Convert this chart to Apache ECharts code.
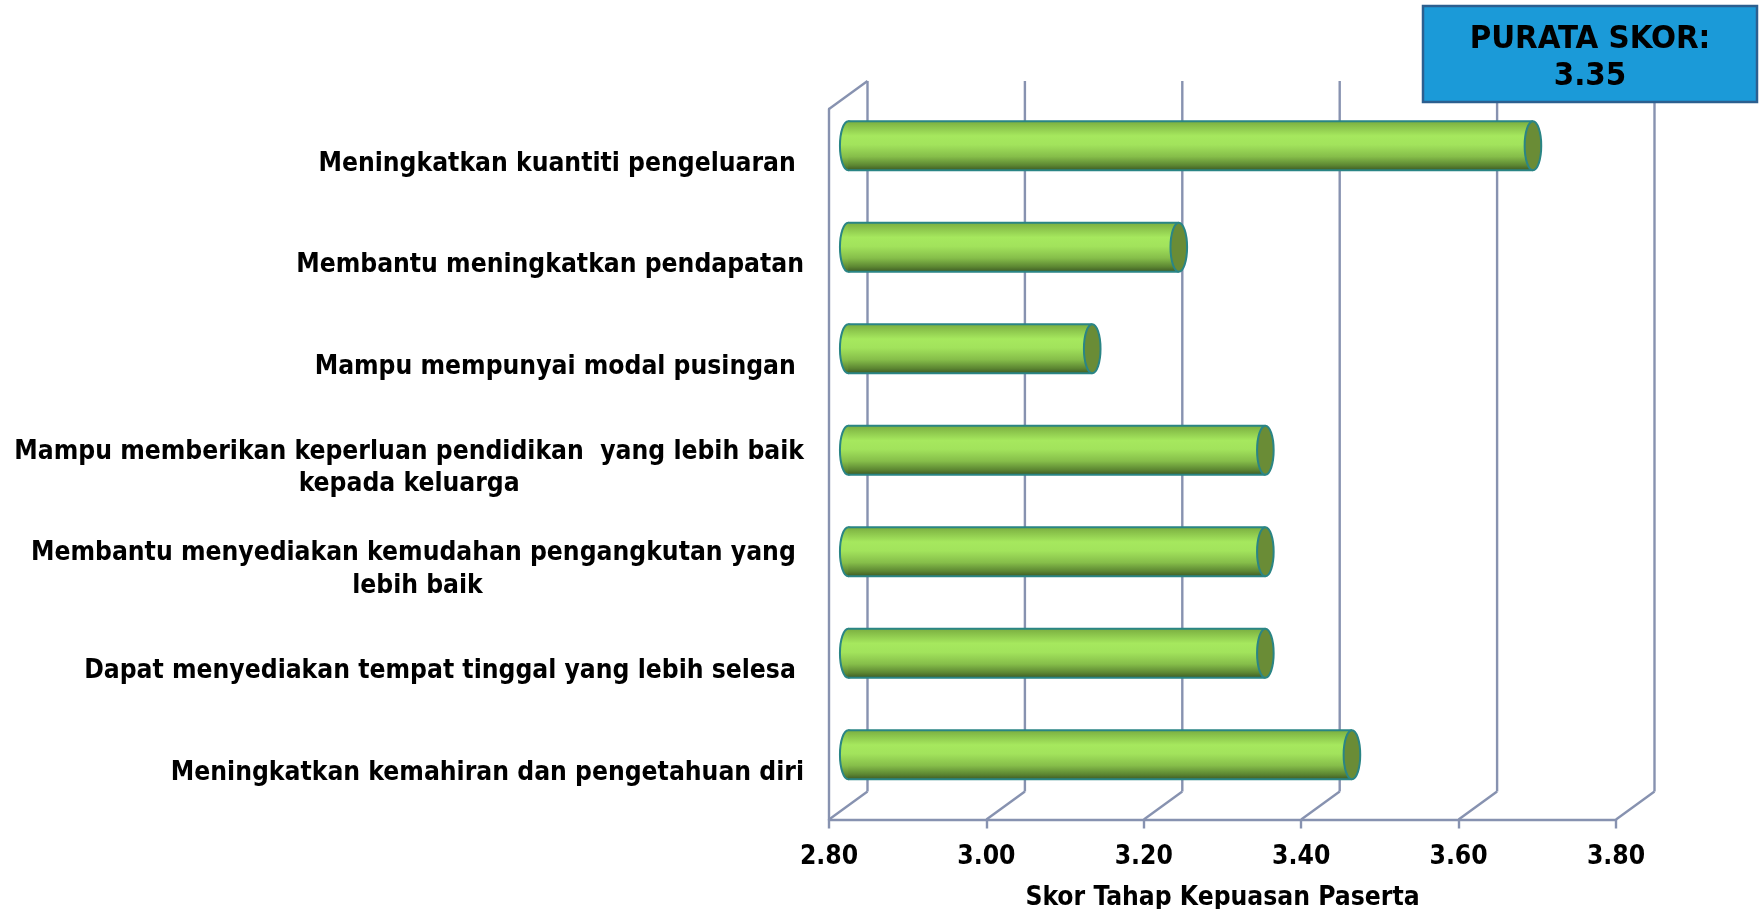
<!DOCTYPE html>
<html><head><meta charset="utf-8">
<script src="https://cdn.jsdelivr.net/npm/echarts@6/dist/echarts.min.js"></script>
<style>html,body{margin:0;padding:0;background:#fff}#c{width:1760px;height:909px}</style>
</head><body><div id="c"></div>
<script>
const categories = [
  'Meningkatkan kuantiti pengeluaran ',
  'Membantu meningkatkan pendapatan',
  'Mampu mempunyai modal pusingan ',
  'Mampu memberikan keperluan pendidikan  yang lebih baik\nkepada keluarga',
  'Membantu menyediakan kemudahan pengangkutan yang \nlebih baik',
  'Dapat menyediakan tempat tinggal yang lebih selesa ',
  'Meningkatkan kemahiran dan pengetahuan diri'
];
const scores = [3.67, 3.22, 3.11, 3.33, 3.33, 3.33, 3.44];
const xTicks = [2.8, 3.0, 3.2, 3.4, 3.6, 3.8];
const axisTitle = 'Skor Tahap Kepuasan Paserta';
const averageLabel = 'PURATA SKOR:';
const averageScore = '3.35';

const FONT = '"DejaVu Sans Condensed", "DejaVu Sans", Verdana, sans-serif';
const GRID_COLOR = '#8792B0';
const EDGE = '#2A8585';
const CAP = '#6A8C36';
const DX = 38.5, DY = -28;

// fit font sizes to the widths seen in the reference
const mctx = document.createElement('canvas').getContext('2d');
function fitSize(text, target) {
  mctx.font = 'bold 100px ' + FONT;
  return 100 * target / mctx.measureText(text).width;
}
const LABEL_SIZE = fitSize('Mampu memberikan keperluan pendidikan  yang lebih baik', 790);
const TITLE_SIZE = fitSize('PURATA SKOR:', 241);

function ellipsePath(cx, cy, rx, ry) {
  const k = 0.5523;
  return 'M' + (cx - rx) + ',' + cy +
    ' C' + (cx - rx) + ',' + (cy - k * ry) + ' ' + (cx - k * rx) + ',' + (cy - ry) + ' ' + cx + ',' + (cy - ry) +
    ' C' + (cx + k * rx) + ',' + (cy - ry) + ' ' + (cx + rx) + ',' + (cy - k * ry) + ' ' + (cx + rx) + ',' + cy +
    ' C' + (cx + rx) + ',' + (cy + k * ry) + ' ' + (cx + k * rx) + ',' + (cy + ry) + ' ' + cx + ',' + (cy + ry) +
    ' C' + (cx - k * rx) + ',' + (cy + ry) + ' ' + (cx - rx) + ',' + (cy + k * ry) + ' ' + (cx - rx) + ',' + cy + ' Z';
}

function barGradient() {
  return {
    type: 'linear', x: 0, y: 0, x2: 0, y2: 1,
    colorStops: [
      {offset: 0, color: '#7AAE40'},
      {offset: 0.3, color: '#A6E85E'},
      {offset: 0.48, color: '#A2E35C'},
      {offset: 0.72, color: '#86BE4A'},
      {offset: 0.9, color: '#5C8632'},
      {offset: 1, color: '#3E5B24'}
    ]
  };
}

function renderWall(params, api) {
  const cs = params.coordSys;
  const x = api.coord([api.value(0), 0])[0];
  const top = cs.y, bottom = cs.y + cs.height;
  const ls = {stroke: GRID_COLOR, lineWidth: 2.4};
  const children = [
    {type: 'line', shape: {x1: x + DX, y1: top + DY, x2: x + DX, y2: bottom + DY}, style: ls},
    {type: 'line', shape: {x1: x, y1: bottom, x2: x + DX, y2: bottom + DY}, style: ls}
  ];
  if (params.dataIndex === 0) {
    children.push({type: 'line', shape: {x1: x, y1: top, x2: x + DX, y2: top + DY}, style: ls});
  }
  return {type: 'group', children: children};
}

function renderBar(params, api) {
  const v = api.value(0), i = api.value(1);
  const s = api.coord([xTicks[0], i]);
  const e = api.coord([v, i]);
  const band = api.size([0, 1])[1];
  const h = band * 0.483, ry = h / 2, rx = 8.3;
  const cy = s[1] + DY / 2, x0 = s[0] + DX / 2, x1 = e[0] + DX / 2;
  return {
    type: 'group',
    children: [
      {type: 'path', shape: {pathData: ellipsePath(x0, cy, rx, ry)}, style: {fill: barGradient(), stroke: EDGE, lineWidth: 2}},
      {type: 'rect', shape: {x: x0, y: cy - ry, width: x1 - x0, height: h}, style: {fill: barGradient()}},
      {type: 'line', shape: {x1: x0, y1: cy - ry, x2: x1, y2: cy - ry}, style: {stroke: EDGE, lineWidth: 2}},
      {type: 'line', shape: {x1: x0, y1: cy + ry, x2: x1, y2: cy + ry}, style: {stroke: EDGE, lineWidth: 2}},
      {type: 'path', shape: {pathData: ellipsePath(x1, cy, rx, ry)}, style: {fill: CAP, stroke: EDGE, lineWidth: 2}}
    ]
  };
}

const chart = echarts.init(document.getElementById('c'), null, {renderer: 'canvas'});
chart.setOption({
  animation: false,
  backgroundColor: '#ffffff',
  grid: {left: 829, top: 109, width: 787, height: 710.5, containLabel: false, outerBoundsMode: 'none'},
  xAxis: {
    type: 'value', min: 2.8, max: 3.8, interval: 0.2,
    axisLine: {show: true, lineStyle: {color: GRID_COLOR, width: 2.4}},
    axisTick: {show: true, length: 9, lineStyle: {color: GRID_COLOR, width: 2.4}},
    splitLine: {show: false},
    axisLabel: {
      margin: 25, color: '#000', fontFamily: FONT, fontWeight: 'bold', fontSize: LABEL_SIZE,
      formatter: function (v) { return v.toFixed(2); }
    },
    name: axisTitle, nameLocation: 'middle', nameGap: 65.5,
    nameTextStyle: {color: '#000', fontFamily: FONT, fontWeight: 'bold', fontSize: LABEL_SIZE}
  },
  yAxis: {
    type: 'category', data: categories, inverse: true,
    axisLine: {show: true, lineStyle: {color: GRID_COLOR, width: 2.4}},
    axisTick: {show: false},
    splitLine: {show: false},
    axisLabel: {
      margin: 25, color: '#000', fontFamily: FONT, fontWeight: 'bold', fontSize: LABEL_SIZE,
      lineHeight: 32.5, align: 'right', padding: [8, 0, 0, 0],
      formatter: function (v) {
        return v.split('\n').map(function (l) { return '{c|' + l + '}'; }).join('\n');
      },
      rich: {c: {align: 'center', color: '#000', fontFamily: FONT, fontWeight: 'bold', fontSize: LABEL_SIZE, lineHeight: 32.5}}
    }
  },
  graphic: [
    {type: 'rect', shape: {x: 1423, y: 6, width: 334, height: 96}, style: {fill: '#1B9AD8', stroke: '#2C5F8F', lineWidth: 2.5}, z: 10},
    {type: 'text', x: 1590, y: 58.5, z: 11, style: {
      text: averageLabel + '\n' + averageScore, fill: '#000',
      font: 'bold ' + TITLE_SIZE.toFixed(1) + 'px ' + FONT, align: 'center', verticalAlign: 'middle', lineHeight: 37
    }}
  ],
  series: [
    {
      type: 'custom', renderItem: renderWall, clip: false, silent: true, z: 1,
      data: xTicks.map(function (v) { return [v, 0]; })
    },
    {
      type: 'custom', renderItem: renderBar, clip: false, z: 5,
      encode: {x: 0, y: 1},
      data: scores.map(function (v, i) { return [v, i]; })
    }
  ]
});
</script>
</body></html>
